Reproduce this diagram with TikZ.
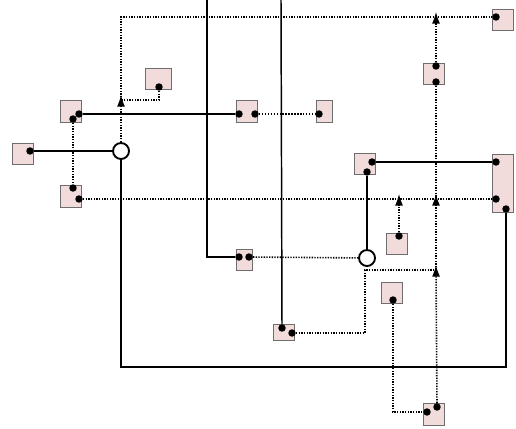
\documentclass[tikz,border=0pt]{standalone}
\usepackage{xcolor}
\usepackage{tikz}
\usetikzlibrary{arrows.meta}

\definecolor{blkfill}{RGB}{242,220,219}
\definecolor{blkline}{RGB}{110,110,110}

\begin{document}
\begin{tikzpicture}[
    x=0.75pt, y=-0.75pt,
    blk/.style={rectangle, draw=blkline, fill=blkfill, line width=0.7pt, inner sep=0pt, minimum width=15.8pt, minimum height=15.8pt},
    port/.style={circle, fill=black, inner sep=0pt, minimum size=5.6pt},
    sumnode/.style={circle, draw=black, fill=white, line width=1.4pt, inner sep=0pt, minimum size=12pt},
    wire/.style={line width=1.1pt},
    sig/.style={line width=1.2pt, dash pattern=on 1pt off 1pt},
    bsig/.style={line width=1.6pt, dash pattern=on 1.1pt off 1.1pt},
    arrow/.style={-{Latex[length=9pt,width=6pt]}, shorten >=-4pt}
]
\useasboundingbox (0,0) rectangle (516,428);

\node (bL) [blk] at (22.5,153.5) {};
\node (bA) [blk, minimum height=16.5pt] at (70.5,111) {};
\node (bB) [blk, minimum height=16.5pt] at (70.5,196) {};
\node (bT) [blk, minimum width=19.5pt] at (158.5,78.5) {};
\node (bM) [blk, minimum height=16.5pt] at (246.5,111) {};
\node (bR) [blk, minimum width=12pt, minimum height=16.5pt] at (324.5,111) {};
\node (bTR) [blk] at (503,20) {};
\node (bU) [blk] at (434,73.5) {};
\node (bC) [blk] at (364.5,164) {};
\node (bBig) [blk, minimum height=43.5pt] at (503,183) {};
\node (bS) [blk] at (396.5,244) {};
\node (bN) [blk, minimum width=12.5pt] at (244.5,259.5) {};
\node (bQ) [blk] at (391.5,293) {};
\node (bP) [blk, minimum height=12.5pt] at (283.5,332.5) {};
\node (bZ) [blk, minimum height=16.5pt] at (434,414) {};

\node (l1) [port] at (30,151) {};
\node (a1) [port] at (79,114) {};
\node (a2) [port] at (73,119) {};
\node (b1) [port] at (73,188) {};
\node (b2) [port] at (79,199) {};
\node (t1) [port] at (159,87) {};
\node (m1) [port] at (239,114) {};
\node (m2) [port] at (255,114) {};
\node (r1) [port] at (319,114) {};
\node (tr1) [port] at (496,17) {};
\node (u1) [port] at (436,66) {};
\node (u2) [port] at (436,82) {};
\node (c1) [port] at (372,162) {};
\node (c2) [port] at (367,172) {};
\node (g1) [port] at (496,162) {};
\node (g2) [port] at (496,199) {};
\node (g3) [port] at (506,209) {};
\node (s1) [port] at (399,236) {};
\node (n1) [port] at (239,257) {};
\node (n2) [port] at (249,257) {};
\node (q1) [port] at (393,300) {};
\node (p1) [port] at (282,328) {};
\node (p2) [port] at (292,333) {};
\node (z1) [port] at (437,407) {};
\node (z2) [port] at (427,412) {};

\node (sumA) [sumnode] at (121,151) {};
\node (sumB) [sumnode] at (367,258) {};

\coordinate (top1) at (207,0);
\coordinate (top2) at (281,0);
\coordinate (j1) at (121,100);
\coordinate (j2) at (436,17);
\coordinate (j3) at (436,199);
\coordinate (j4) at (399,199);
\coordinate (j5) at (436,270);
\coordinate (k1) at (365,270);
\coordinate (k2) at (121,367);

\draw [wire] (l1) -- (sumA);
\draw [wire] (a1) -- (m1);
\draw [wire] (top1) |- (n1);
\draw [wire] (top2) -- (p1);
\draw [wire] (c1) -- (g1);
\draw [wire] (c2) -- (sumB);
\draw [wire] (g3) |- (k2) -- (sumA);

\draw [sig] (a2) -- (b1);
\draw [sig] (b2) -- (g2);
\draw [bsig] (m2) -- (r1);
\draw [sig, arrow] (sumA) -- (j1);
\draw [sig] (j1) |- (tr1);
\draw [sig] (t1) |- (j1);
\draw [sig, arrow] (u1) -- (j2);
\draw [sig] (u2) -- (j3);
\draw [sig, arrow] (s1) -- (j4);
\draw [sig] (n2) -- (sumB);
\draw [sig] (p2) -| (k1) -- (j5);
\draw [sig, arrow] (z1) -- (j5);
\draw [sig, arrow] (j5) -- (j3);
\draw [sig] (q1) |- (z2);

\end{tikzpicture}
\end{document}
